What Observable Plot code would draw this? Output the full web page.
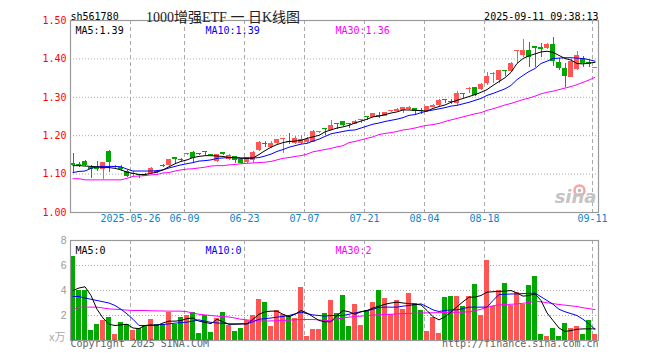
<!DOCTYPE html>
<html><head><meta charset="utf-8">
<script src="https://cdn.jsdelivr.net/npm/d3@7"></script>
<script src="https://cdn.jsdelivr.net/npm/@observablehq/plot@0.6"></script>
<style>
body{margin:0;background:#fff;}
#wrap{position:relative;width:660px;height:360px;overflow:hidden;background:#fff;}
#wrap svg{position:absolute;left:0;}
</style></head><body><div id="wrap"></div>
<script>
// ---- data (88 trading days, 2025-05-12 .. 2025-09-11) ----
const openP = [1.128,1.124,1.134,1.116,1.118,1.111,1.159,1.118,1.118,1.108,1.100,1.099,1.099,1.102,1.107,1.121,1.122,1.142,1.138,1.150,1.157,1.152,1.157,1.151,1.134,1.155,1.138,1.146,1.137,1.130,1.135,1.162,1.180,1.170,1.179,1.191,1.183,1.179,1.179,1.183,1.183,1.208,1.216,1.213,1.229,1.237,1.229,1.229,1.240,1.248,1.248,1.251,1.250,1.262,1.263,1.266,1.267,1.270,1.264,1.264,1.274,1.279,1.292,1.288,1.283,1.308,1.320,1.325,1.320,1.335,1.360,1.344,1.369,1.368,1.419,1.409,1.422,1.432,1.429,1.426,1.437,1.391,1.374,1.352,1.372,1.400,1.391,1.376];
const highP = [1.154,1.131,1.136,1.122,1.134,1.131,1.162,1.122,1.122,1.110,1.106,1.100,1.101,1.117,1.109,1.124,1.138,1.143,1.140,1.153,1.160,1.154,1.158,1.152,1.151,1.157,1.150,1.147,1.139,1.144,1.158,1.184,1.184,1.186,1.191,1.193,1.206,1.198,1.200,1.196,1.213,1.212,1.218,1.240,1.229,1.238,1.231,1.239,1.242,1.249,1.258,1.261,1.261,1.265,1.270,1.274,1.276,1.272,1.270,1.277,1.281,1.293,1.293,1.294,1.316,1.309,1.325,1.326,1.335,1.365,1.364,1.371,1.369,1.390,1.420,1.450,1.444,1.433,1.439,1.441,1.455,1.401,1.387,1.398,1.420,1.407,1.396,1.378];
const lowP = [1.102,1.116,1.120,1.089,1.108,1.085,1.105,1.114,1.108,1.091,1.095,1.088,1.093,1.101,1.102,1.117,1.120,1.124,1.134,1.148,1.127,1.148,1.148,1.146,1.130,1.149,1.135,1.128,1.125,1.128,1.128,1.160,1.168,1.166,1.177,1.153,1.178,1.176,1.177,1.180,1.181,1.206,1.200,1.213,1.215,1.224,1.220,1.228,1.231,1.240,1.247,1.244,1.249,1.260,1.262,1.257,1.266,1.255,1.255,1.262,1.273,1.277,1.283,1.281,1.279,1.296,1.311,1.303,1.318,1.331,1.335,1.337,1.354,1.366,1.387,1.404,1.377,1.378,1.404,1.425,1.380,1.370,1.326,1.351,1.370,1.378,1.377,1.375];
const closeP = [1.123,1.120,1.123,1.111,1.112,1.130,1.130,1.119,1.112,1.095,1.102,1.097,1.095,1.115,1.105,1.120,1.137,1.139,1.136,1.152,1.140,1.150,1.156,1.148,1.150,1.150,1.148,1.135,1.127,1.142,1.156,1.182,1.178,1.180,1.190,1.192,1.181,1.192,1.189,1.190,1.211,1.210,1.215,1.227,1.228,1.226,1.228,1.238,1.241,1.247,1.257,1.250,1.260,1.264,1.268,1.273,1.274,1.264,1.263,1.276,1.279,1.292,1.291,1.287,1.311,1.307,1.321,1.305,1.333,1.354,1.362,1.370,1.367,1.389,1.420,1.422,1.404,1.426,1.425,1.438,1.394,1.374,1.354,1.394,1.409,1.387,1.385,1.377];
const volume = [6.72,4.0,4.0,0.8,1.28,1.6,1.87,0.48,1.44,1.28,0.8,0.93,1.2,1.68,1.25,1.28,2.24,1.28,1.84,2.0,2.21,0.56,2.0,0.64,1.73,2.24,1.2,0.72,0.96,1.6,2.0,3.28,3.04,1.12,2.37,2.05,1.95,1.73,4.24,0.32,0.88,0.88,2.16,3.2,2.16,3.6,1.12,2.88,1.2,2.4,3.04,4.0,3.36,2.08,3.2,2.48,3.76,2.96,2.4,0.72,1.84,0.56,3.47,3.55,3.52,2.72,3.52,4.48,2.0,6.43,2.72,4.0,4.59,2.83,3.84,2.88,4.4,5.12,0.51,0.32,0.96,0.32,1.36,0.96,1.12,0.48,1.6,0.48];
const ma5 = [1.122,1.122,1.121,1.120,1.119,1.117,1.117,1.115,1.111,1.105,1.102,1.099,1.099,1.102,1.105,1.111,1.119,1.127,1.133,1.137,1.143,1.146,1.148,1.148,1.147,1.146,1.143,1.143,1.141,1.141,1.142,1.151,1.161,1.170,1.177,1.182,1.185,1.186,1.188,1.193,1.197,1.201,1.210,1.215,1.220,1.223,1.227,1.233,1.238,1.243,1.249,1.251,1.255,1.259,1.262,1.267,1.267,1.266,1.265,1.264,1.271,1.276,1.280,1.287,1.292,1.297,1.302,1.307,1.313,1.320,1.331,1.341,1.351,1.365,1.388,1.401,1.408,1.413,1.418,1.420,1.417,1.409,1.401,1.397,1.388,1.387,1.389,1.391];
const ma10 = [1.104,1.107,1.108,1.115,1.119,1.120,1.120,1.120,1.119,1.113,1.108,1.108,1.108,1.108,1.109,1.111,1.116,1.120,1.124,1.127,1.130,1.134,1.135,1.137,1.141,1.142,1.143,1.143,1.142,1.142,1.142,1.143,1.147,1.152,1.159,1.164,1.170,1.174,1.178,1.180,1.186,1.191,1.198,1.205,1.208,1.211,1.214,1.215,1.220,1.225,1.230,1.233,1.237,1.240,1.243,1.247,1.253,1.255,1.260,1.264,1.267,1.270,1.273,1.277,1.279,1.283,1.287,1.292,1.297,1.305,1.310,1.316,1.322,1.331,1.346,1.357,1.367,1.375,1.388,1.394,1.401,1.402,1.403,1.403,1.402,1.401,1.398,1.394];
const ma30 = [1.088,1.088,1.085,1.085,1.085,1.085,1.085,1.085,1.085,1.089,1.094,1.095,1.096,1.098,1.099,1.103,1.104,1.108,1.111,1.113,1.114,1.116,1.118,1.121,1.122,1.122,1.124,1.125,1.127,1.128,1.129,1.130,1.131,1.133,1.137,1.141,1.143,1.146,1.148,1.152,1.158,1.161,1.164,1.167,1.171,1.174,1.182,1.185,1.189,1.193,1.197,1.203,1.206,1.208,1.211,1.215,1.217,1.220,1.224,1.227,1.229,1.232,1.237,1.241,1.245,1.249,1.253,1.257,1.260,1.266,1.270,1.275,1.280,1.284,1.289,1.294,1.298,1.303,1.309,1.313,1.316,1.320,1.324,1.328,1.333,1.339,1.345,1.352];
const volMa5 = [4.0,4.2,4.3,3.6,2.5,1.8,1.3,1.2,1.25,1.3,1.0,0.95,1.2,1.25,1.2,1.4,1.55,1.55,1.6,1.75,1.8,1.55,1.45,1.35,1.7,1.5,1.3,1.3,1.33,1.33,1.7,2.1,2.3,2.35,2.35,2.1,1.9,2.1,2.4,2.2,1.9,1.6,1.5,1.5,2.0,2.4,2.3,2.1,2.3,2.4,2.6,2.75,2.9,3.0,3.07,3.0,2.95,2.9,2.85,2.4,1.9,1.65,1.9,2.27,2.7,3.1,3.47,3.47,3.6,3.87,3.9,3.93,3.95,4.0,3.8,3.55,3.6,3.73,3.2,2.21,1.6,1.0,0.72,0.8,0.9,0.93,0.93,0.93];
const volMa10 = [3.52,3.52,3.4,3.3,3.2,3.1,3.0,2.8,2.5,2.13,1.7,1.2,1.2,1.2,1.25,1.28,1.33,1.39,1.43,1.47,1.55,1.65,1.55,1.45,1.4,1.38,1.33,1.33,1.33,1.33,1.5,1.7,1.75,1.8,1.87,1.93,2.0,2.13,2.27,2.15,2.05,2.0,1.95,2.0,2.0,2.0,2.1,2.21,2.3,2.38,2.5,2.65,2.67,2.67,2.67,2.75,2.8,2.87,2.93,2.7,2.45,2.32,2.4,2.45,2.45,2.55,2.67,2.67,2.67,2.67,3.2,3.68,3.7,3.72,3.73,3.75,3.77,3.79,3.5,3.2,2.9,2.5,2.3,2.15,2.0,1.7,1.33,0.9];
const volMa30 = [2.45,2.67,2.67,2.67,2.67,2.6,2.53,2.5,2.47,2.43,2.4,2.4,2.4,2.38,2.37,2.36,2.35,2.35,2.35,2.3,2.2,2.1,2.05,2.0,1.95,1.92,1.88,1.8,1.7,1.65,1.6,1.57,1.55,1.57,1.58,1.6,1.63,1.66,1.68,1.68,1.68,1.65,1.6,1.6,1.72,1.8,1.87,1.92,1.95,2.0,2.03,2.06,2.08,2.1,2.13,2.15,2.17,2.18,2.2,2.21,2.22,2.23,2.24,2.25,2.26,2.27,2.3,2.38,2.5,2.65,2.78,2.85,2.88,2.9,2.93,2.98,3.05,3.12,3.1,3.02,2.95,2.88,2.83,2.77,2.72,2.62,2.55,2.48];
const tickIndex = [10,19,29,39,49,59,69,87];
const tickLabels = ["2025-05-26","06-09","06-23","07-07","07-21","08-04","08-18","09-11"];
const priceTicks = [1.00,1.10,1.20,1.30,1.40,1.50];
const volTicks = [2,4,6,8];
const code = "sh561780";
const titleText = "1000增强ETF 一 日K线图";
const stamp = "2025-09-11 09:38:13";
const priceMaLabels = ["MA5:1.39","MA10:1.39","MA30:1.36"];
const volMaLabels = ["MA5:0","MA10:0","MA30:2"];

// ---- build table ----
const UP = "#ff5555", DOWN = "#00a800";
const rows = openP.map((o,i)=>({i, o, h:highP[i], l:lowP[i], c:closeP[i], v:volume[i],
  m5:ma5[i], m10:ma10[i], m30:ma30[i], vm5:volMa5[i], vm10:volMa10[i], vm30:volMa30[i],
  col: closeP[i] >= o ? UP : DOWN}));
const cx = d => d.i + 2.5/6;
const mono = "'DejaVu Sans Mono', 'Liberation Mono', monospace";
const minBody = 0.0027;

const main = Plot.plot({
  width: 660, height: 232,
  marginLeft: 70, marginRight: 62, marginTop: 20, marginBottom: 20,
  x: {domain: [0, 88], axis: null},
  y: {domain: [1.0, 1.5], axis: null},
  color: {type: "identity"},
  style: {fontFamily: mono, fontSize: "10px", background: "transparent", overflow: "visible"},
  marks: [
    Plot.ruleY(priceTicks.filter(d => d > 1.0 && d < 1.5), {stroke: "#aaa", strokeDasharray: "1,2"}),
    Plot.ruleX(tickIndex, {stroke: "#aaa", strokeDasharray: "4,3"}),
    Plot.ruleX(rows, {x: cx, y1: "l", y2: "h", stroke: "col", shapeRendering: "crispEdges"}),
    Plot.rect(rows, {x1: "i", x2: d => d.i + 5/6,
      y1: d => Math.min(d.o, d.c),
      y2: d => Math.max(d.o, d.c, Math.min(d.o, d.c) + minBody),
      fill: "col", shapeRendering: "crispEdges"}),
    Plot.line(rows, {x: cx, y: "m30", stroke: "#ff00ff", strokeWidth: 1}),
    Plot.line(rows, {x: cx, y: "m10", stroke: "#0000ff", strokeWidth: 1}),
    Plot.line(rows, {x: cx, y: "m5", stroke: "#000", strokeWidth: 1}),
    Plot.frame({stroke: "#999", strokeWidth: 1.2}),
    Plot.text(priceTicks, {y: d => d, text: d => d.toFixed(2), frameAnchor: "left", textAnchor: "end", dx: -4, fill: "#ff0000", fontSize: 10}),
    Plot.text(tickIndex, {x: d => d, text: (d, i) => tickLabels[i], frameAnchor: "bottom", dy: 9, fill: "#0a84cc", fontSize: 10}),
    Plot.text([priceMaLabels[0]], {text: d => d, frameAnchor: "top-left", textAnchor: "start", dx: 5, dy: 6.5, fill: "#000", fontSize: 10}),
    Plot.text([priceMaLabels[1]], {text: d => d, frameAnchor: "top-left", textAnchor: "start", dx: 135, dy: 6.5, fill: "#0000ff", fontSize: 10}),
    Plot.text([priceMaLabels[2]], {text: d => d, frameAnchor: "top-left", textAnchor: "start", dx: 265, dy: 6.5, fill: "#ff00ff", fontSize: 10}),
    Plot.text([code], {text: d => d, frameAnchor: "top-left", textAnchor: "start", dx: 0, dy: -7.5, fill: "#000", fontSize: 10}),
    Plot.text([titleText], {text: d => d, frameAnchor: "top-left", textAnchor: "middle", dx: 152.5, dy: -8, fill: "#222", fontSize: 14,
      fontFamily: "'Liberation Serif', 'Noto Sans CJK SC', serif"}),
    Plot.text([stamp], {text: d => d, frameAnchor: "top-right", textAnchor: "end", dx: 0, dy: -7.5, fill: "#000", fontSize: 10}),
    Plot.dot([0], {frameAnchor: "bottom-right", dx: -19, dy: -22, r: 5, stroke: "#f7a4a4", strokeWidth: 2.5, fill: "#fff"}),
    Plot.dot([0], {frameAnchor: "bottom-right", dx: -19, dy: -22, r: 1.8, fill: "#bbb"}),
    Plot.text(["sina"], {text: d => d, frameAnchor: "bottom-right", textAnchor: "end", dx: -2, dy: -10, fill: "#c4c4c4",
      fontSize: 18, fontStyle: "italic", fontWeight: "bold", fontFamily: "'DejaVu Sans', sans-serif"})
  ]
});
main.style.top = "0px";

const vol = Plot.plot({
  width: 660, height: 128,
  marginLeft: 70, marginRight: 62, marginTop: 8, marginBottom: 20,
  x: {domain: [0, 88], axis: null},
  y: {domain: [0, 8], axis: null},
  color: {type: "identity"},
  style: {fontFamily: mono, fontSize: "10px", background: "transparent", overflow: "visible"},
  marks: [
    Plot.ruleY(volTicks.filter(d => d < 8), {stroke: "#aaa", strokeDasharray: "1,2"}),
    Plot.ruleX(tickIndex, {stroke: "#aaa", strokeDasharray: "4,3"}),
    Plot.rect(rows, {x1: "i", x2: d => d.i + 5/6, y1: 0, y2: "v", fill: "col", shapeRendering: "crispEdges"}),
    Plot.line(rows, {x: cx, y: "vm30", stroke: "#ff00ff", strokeWidth: 1}),
    Plot.line(rows, {x: cx, y: "vm10", stroke: "#0000ff", strokeWidth: 1}),
    Plot.line(rows, {x: cx, y: "vm5", stroke: "#000", strokeWidth: 1}),
    Plot.frame({stroke: "#999", strokeWidth: 1.2}),
    Plot.text(volTicks, {y: d => d, text: d => String(d), frameAnchor: "left", textAnchor: "end", dx: -4, fill: "#999",
      fontSize: 10.5, fontFamily: "'Liberation Sans', sans-serif"}),
    Plot.text(["x万"], {text: d => d, frameAnchor: "bottom-left", textAnchor: "end", dx: -5, dy: 0, fill: "#aaa",
      fontSize: 11, fontFamily: "'Noto Sans CJK SC', sans-serif"}),
    Plot.text([volMaLabels[0]], {text: d => d, frameAnchor: "top-left", textAnchor: "start", dx: 5, dy: 6.5, fill: "#000", fontSize: 10}),
    Plot.text([volMaLabels[1]], {text: d => d, frameAnchor: "top-left", textAnchor: "start", dx: 135, dy: 6.5, fill: "#0000ff", fontSize: 10}),
    Plot.text([volMaLabels[2]], {text: d => d, frameAnchor: "top-left", textAnchor: "start", dx: 265, dy: 6.5, fill: "#ff00ff", fontSize: 10}),
    Plot.text(["Copyright 2025 SINA.COM"], {text: d => d, frameAnchor: "bottom-left", textAnchor: "start", dy: 6, fill: "#666", fontSize: 10}),
    Plot.text(["http://finance.sina.com.cn"], {text: d => d, frameAnchor: "bottom-right", textAnchor: "end", dy: 6, fill: "#666", fontSize: 10})
  ]
});
vol.style.top = "232px";

const wrap = document.getElementById("wrap");
wrap.appendChild(main);
wrap.appendChild(vol);
</script>
</body></html>
